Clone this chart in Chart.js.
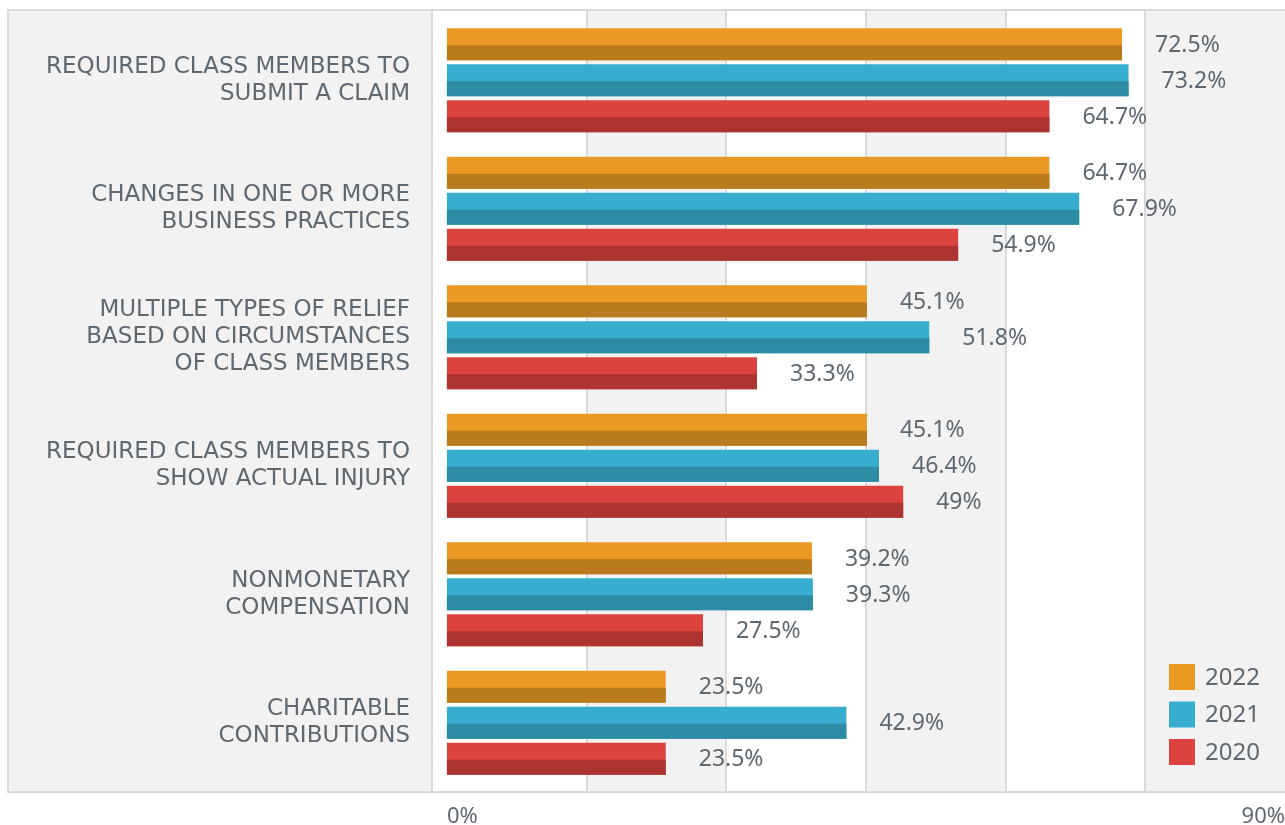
<!DOCTYPE html>
<html>
<head>
<meta charset="utf-8">
<script src="https://cdn.jsdelivr.net/npm/chart.js@4/dist/chart.umd.min.js"></script>
<style>
  html,body{margin:0;padding:0;background:#fff;}
  #wrap{width:1285px;height:825px;position:relative;}
</style>
</head>
<body>
<div id="wrap"><canvas id="c"></canvas></div>
<script>
/* settlement relief types, share of settlements by year */
const CATEGORIES=[
  ['REQUIRED CLASS MEMBERS TO','SUBMIT A CLAIM'],
  ['CHANGES IN ONE OR MORE','BUSINESS PRACTICES'],
  ['MULTIPLE TYPES OF RELIEF','BASED ON CIRCUMSTANCES','OF CLASS MEMBERS'],
  ['REQUIRED CLASS MEMBERS TO','SHOW ACTUAL INJURY'],
  ['NONMONETARY','COMPENSATION'],
  ['CHARITABLE','CONTRIBUTIONS'],
];
const YEARS=['2022','2021','2020'];
const VALS_2022=[72.5,64.7,45.1,45.1,39.2,23.5];
const VALS_2021=[73.2,67.9,51.8,46.4,39.3,42.9];
const VALS_2020=[64.7,54.9,33.3,49,27.5,23.5];
const X_TICKS=[0,15,30,45,60,75,90];

const LIGHT=['#ea9a24','#37aecf','#dc433e'];
const DARK =['#ba7b1e','#2d8ba4','#ae3431'];
const TXT='#5f676f', LINE='#d9d9d9', PANEL='#f2f2f2';
const FONT='"Noto Sans", sans-serif';
const CAT_FONT='"DejaVu Sans", sans-serif';
const BOX_TOP=10, BOX_BOT=792, BOX_LEFT=8;

// gray panel, alternating bands, frame + grid
const framePlugin={id:'frame',beforeDraw(chart){
  const{ctx,chartArea:{left},scales:{x},width}=chart;
  ctx.save();
  ctx.fillStyle=PANEL;
  ctx.fillRect(BOX_LEFT,BOX_TOP,left-BOX_LEFT,BOX_BOT-BOX_TOP);
  for(let i=1;i<X_TICKS.length-1;i+=2){
    const a=x.getPixelForValue(X_TICKS[i]);
    const b=i+1===X_TICKS.length-1?width:x.getPixelForValue(X_TICKS[i+1]);
    ctx.fillRect(a,BOX_TOP,b-a,BOX_BOT-BOX_TOP);
  }
  ctx.strokeStyle=LINE; ctx.lineWidth=2;
  ctx.beginPath();
  X_TICKS.slice(1,-1).forEach(v=>{
    const px=Math.round(x.getPixelForValue(v));
    ctx.moveTo(px,BOX_TOP); ctx.lineTo(px,BOX_BOT);
  });
  ctx.moveTo(left,BOX_TOP); ctx.lineTo(left,BOX_BOT);
  ctx.moveTo(BOX_LEFT,BOX_TOP); ctx.lineTo(BOX_LEFT,BOX_BOT);
  ctx.moveTo(BOX_LEFT-1,BOX_TOP); ctx.lineTo(width,BOX_TOP);
  ctx.moveTo(BOX_LEFT-1,BOX_BOT); ctx.lineTo(width,BOX_BOT);
  ctx.stroke();
  ctx.restore();
}};

// darker lower half of each bar + value labels
const barPlugin={id:'barShade',afterDatasetsDraw(chart){
  const{ctx}=chart;
  ctx.save();
  chart.data.datasets.forEach((ds,di)=>{
    const meta=chart.getDatasetMeta(di);
    meta.data.forEach((el,i)=>{
      const top=el.y-el.height/2, mid=top+el.height*0.53;
      ctx.fillStyle=DARK[di];
      ctx.fillRect(el.base,mid,el.x-el.base,top+el.height-mid);
      ctx.fillStyle=TXT;
      ctx.font='23px '+FONT;
      ctx.textAlign='left'; ctx.textBaseline='middle';
      ctx.fillText(ds.data[i]+'%',el.x+33,el.y+1);
    });
  });
  ctx.restore();
}};

const legendPlugin={id:'boxLegend',afterDraw(chart){
  const{ctx,chartArea:{right,bottom}}=chart;
  ctx.save();
  ctx.font='24px '+FONT; ctx.textBaseline='middle'; ctx.textAlign='left';
  chart.data.datasets.forEach((ds,i)=>{
    const y=bottom-123+i*37.5;
    ctx.fillStyle=LIGHT[i];
    ctx.fillRect(right-116,y,26,26);
    ctx.fillStyle=TXT;
    ctx.fillText(ds.label,right-80,y+14);
  });
  ctx.restore();
}};

new Chart(document.getElementById('c'),{
  type:'bar',
  data:{
    labels:CATEGORIES,
    datasets:[VALS_2022,VALS_2021,VALS_2020].map((d,i)=>({
      label:YEARS[i],data:d,backgroundColor:LIGHT[i],borderWidth:0,
      categoryPercentage:0.84,barPercentage:0.889,
    })),
  },
  options:{
    indexAxis:'y',responsive:true,maintainAspectRatio:false,animation:false,
    layout:{padding:{top:16,right:0,left:0,bottom:0}},
    plugins:{legend:{display:false},tooltip:{enabled:false}},
    scales:{
      x:{
        min:-1.6,max:90,
        afterBuildTicks:s=>{s.ticks=X_TICKS.map(v=>({value:v}));},
        afterFit:s=>{s.height=38;s.paddingLeft=0;s.paddingRight=0;},
        grid:{display:false,drawTicks:false},border:{display:false},
        ticks:{autoSkip:false,maxRotation:0,align:'inner',padding:17,color:TXT,
          font:{family:FONT,size:22},
          callback:v=>(v===0||v===90)?v+'%':''},
      },
      y:{
        afterFit:s=>{s.width=432;s.paddingTop=0;s.paddingBottom=0;},
        grid:{display:false,drawTicks:false},border:{display:false},
        ticks:{padding:22,color:TXT,font:{family:CAT_FONT,size:23,lineHeight:1.18}},
      },
    },
  },
  plugins:[framePlugin,barPlugin,legendPlugin],
});
</script>
</body>
</html>
